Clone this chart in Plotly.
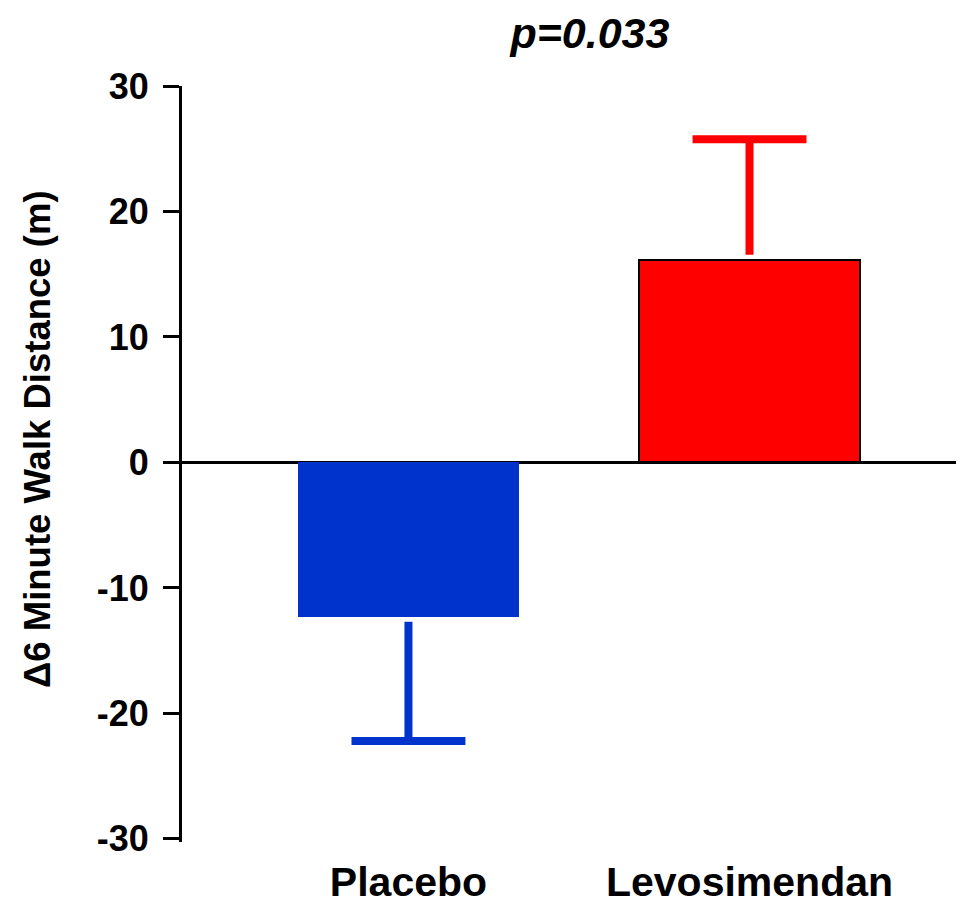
import plotly.graph_objects as go

# ---- data ----
categories = ["Placebo", "Levosimendan"]
means = [-12.3, 16.15]
errors = [9.9, 9.6]
bar_colors = ["#0033CC", "#FF0000"]
y_tick_vals = [-30, -20, -10, 0, 10, 20, 30]
y_tick_text = [str(v) for v in y_tick_vals]
title_text = "p=0.033"
y_title = "Δ6 Minute Walk Distance (m)"

# ---- style constants ----
BAR_WIDTH = 0.646
CAP_HALF = 0.167
GAP = 0.4
FONT = "Arial, 'Liberation Sans', Helvetica, sans-serif"

xpos = list(range(len(categories)))

fig = go.Figure()
fig.add_trace(go.Bar(
    x=xpos, y=means, width=BAR_WIDTH,
    marker=dict(color=bar_colors,
                line=dict(color=["rgba(0,0,0,0)", "black"], width=[0, 2])),
    showlegend=False, hoverinfo="skip",
))

# one-sided error bars drawn from the data
for i, (m, e, c) in enumerate(zip(means, errors, bar_colors)):
    s = 1 if m >= 0 else -1
    start = m + s * GAP
    end = m + s * e
    fig.add_trace(go.Scatter(
        x=[i, i, None, i - CAP_HALF, i + CAP_HALF],
        y=[start, end, None, end, end],
        mode="lines", line=dict(color=c, width=8),
        showlegend=False, hoverinfo="skip",
    ))

W, H = 956, 899
fig.update_layout(
    width=W, height=H,
    margin=dict(l=174, r=2, t=78, b=58),
    paper_bgcolor="white", plot_bgcolor="white",
    font=dict(family=FONT, color="black"),
    title=dict(text=title_text, x=0.523, xref="paper", xanchor="center",
               y=1 - 25 / H, yref="container", yanchor="middle",
               font=dict(size=43, weight="bold", style="italic", family=FONT)),
    bargap=0,
)
fig.update_xaxes(
    range=[-0.664, 1.623], tickmode="array", tickvals=xpos, ticktext=categories,
    showline=False, ticks="", showgrid=False, zeroline=False,
    tickfont=dict(size=41, weight="bold", family=FONT),
    ticklabelstandoff=12,
)
fig.update_yaxes(
    range=[-30.25, 30], tickmode="array", tickvals=y_tick_vals, ticktext=y_tick_text,
    showline=True, linecolor="black", linewidth=3,
    ticks="outside", ticklen=16, tickwidth=3, tickcolor="black",
    showgrid=False, zeroline=True, zerolinecolor="black", zerolinewidth=3,
    tickfont=dict(size=36, weight="bold", family=FONT),
    ticklabelstandoff=7,
)
fig.add_annotation(
    text=y_title, xref="paper", yref="paper",
    x=(35 - 180) / 782, y=(843 - 440) / 757,
    xanchor="center", yanchor="middle", textangle=-90, showarrow=False,
    font=dict(size=36.5, weight="bold", family=FONT),
)

fig.write_html("out.html")
